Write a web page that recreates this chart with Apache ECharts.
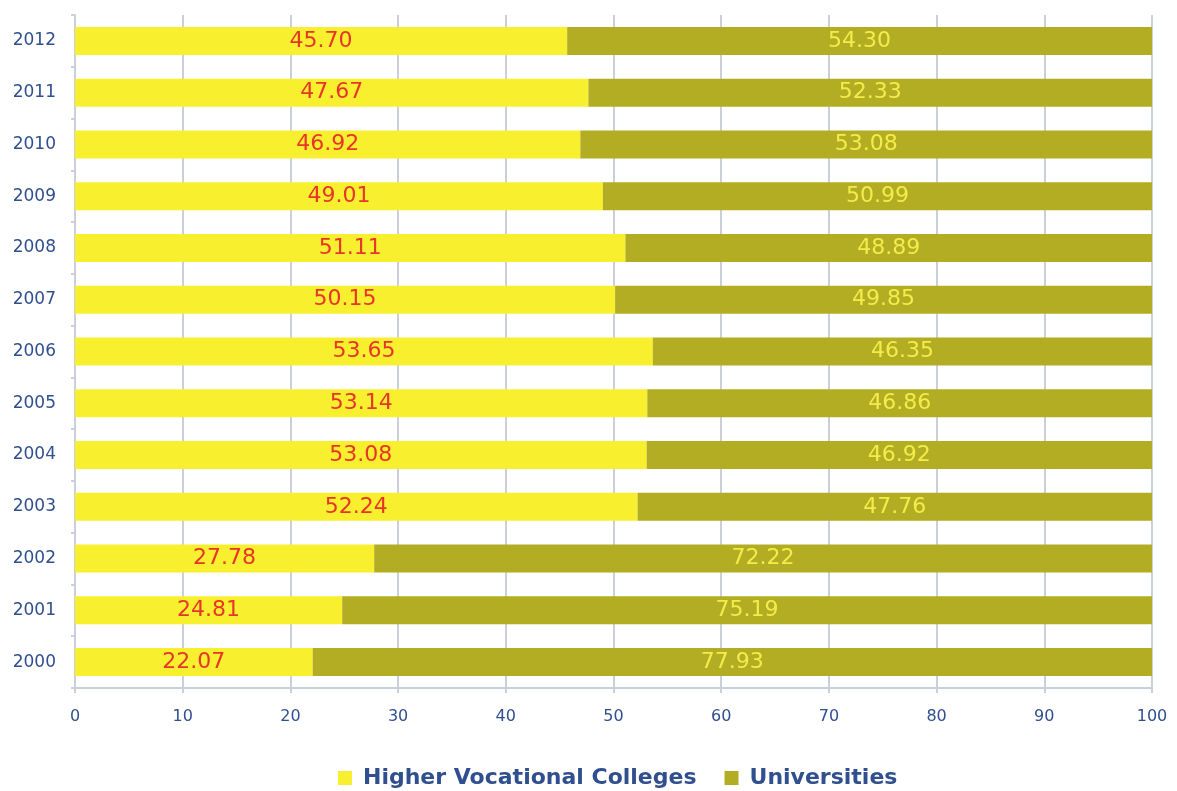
<!DOCTYPE html>
<html>
<head>
<meta charset="utf-8">
<script src="https://cdn.jsdelivr.net/npm/echarts@6/dist/echarts.min.js"></script>
<style>
html,body{margin:0;padding:0;background:#fff;}
#chart{width:1177px;height:791px;}
</style>
</head>
<body>
<div id="chart"></div>
<script>
// Share of enrolment by institution type, per year (percent)
const years = ['2000','2001','2002','2003','2004','2005','2006','2007','2008','2009','2010','2011','2012'];
const vocational = [22.07,24.81,27.78,52.24,53.08,53.14,53.65,50.15,51.11,49.01,46.92,47.67,45.70];
const universities = [77.93,75.19,72.22,47.76,46.92,46.86,46.35,49.85,48.89,50.99,53.08,52.33,54.30];

const axisBlue = '#2f4f8f';
const gridGrey = '#c9d0dc';
const font = 'DejaVu Sans, Verdana, sans-serif';

const chart = echarts.init(document.getElementById('chart'));
chart.setOption({
  animation: false,
  grid: {left: 75, right: 25, top: 15, bottom: 103},
  legend: {
    top: 762,
    left: 333,
    itemWidth: 14, itemHeight: 14, itemGap: 28,
    icon: 'rect',
    textStyle: {color: axisBlue, fontSize: 22, fontWeight: 'bold', fontFamily: font, padding: [0, 0, 0, 6]},
    data: ['Higher Vocational Colleges', 'Universities']
  },
  xAxis: {
    type: 'value', min: 0, max: 100, interval: 10,
    axisLine: {show: true, lineStyle: {color: gridGrey, width: 2}},
    axisTick: {show: true, length: 5, lineStyle: {color: gridGrey, width: 2}},
    splitLine: {show: true, lineStyle: {color: gridGrey, width: 2}},
    axisLabel: {color: axisBlue, fontSize: 16, margin: 21, fontFamily: font}
  },
  yAxis: {
    type: 'category', data: years,
    axisLine: {show: true, lineStyle: {color: gridGrey, width: 2}},
    axisTick: {show: true, length: 4, lineStyle: {color: gridGrey, width: 2}},
    axisLabel: {color: axisBlue, fontSize: 17, margin: 19, fontFamily: font}
  },
  series: [
    {
      name: 'Higher Vocational Colleges', type: 'bar', stack: 'total',
      data: vocational, barWidth: 28,
      itemStyle: {color: '#f8ef2e'},
      label: {show: true, position: 'inside', color: '#e8352a', fontSize: 22,
        fontFamily: font,
        formatter: p => p.value.toFixed(2)}
    },
    {
      name: 'Universities', type: 'bar', stack: 'total',
      data: universities, barWidth: 28,
      itemStyle: {color: '#b2ad22'},
      label: {show: true, position: 'inside', color: '#f4ec4a', fontSize: 22,
        fontFamily: font,
        formatter: p => p.value.toFixed(2)}
    }
  ]
});
</script>
</body>
</html>
